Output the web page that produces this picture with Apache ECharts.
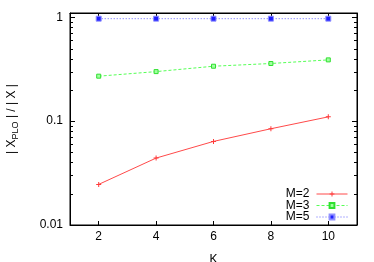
<!DOCTYPE html>
<html><head><meta charset="utf-8">
<script src="https://cdn.jsdelivr.net/npm/echarts@6/dist/echarts.min.js"></script>
<style>html,body{margin:0;padding:0;background:#fff}#c{width:374px;height:262px}</style>
</head><body><div id="c"></div>
<script>
const kValues = [2, 4, 6, 8, 10];
const m2 = [0.0246, 0.0441, 0.0638, 0.0845, 0.110];
const m3 = [0.271, 0.300, 0.338, 0.359, 0.389];
const m5 = [0.97, 0.97, 0.97, 0.97, 0.97];
const yTickLabels = ['0.01', '0.1', '1'];
const xTickLabels = ['2', '4', '6', '8', '10'];
const seriesNames = ['M=2', 'M=3', 'M=5'];

const FONT = 'Liberation Sans, Arial, sans-serif';
const chart = echarts.init(document.getElementById('c'), null, {renderer: 'canvas'});

function pairs(vals) { return kValues.map((k, i) => [k, vals[i]]); }
function yFmt(v) {
  const e = Math.log10(v);
  const r = Math.round(e);
  if (Math.abs(e - r) < 1e-6 && r >= -2 && r <= 0) return yTickLabels[r + 2];
  return '';
}
function xFmt(v) {
  const i = kValues.findIndex(k => Math.abs(k - v) < 1e-6);
  return i >= 0 ? xTickLabels[i] : '';
}

const plusPath = 'path://M4,0H6V4H10V6H6V10H4V6H0V4H4Z';
const gridBox = {left: 70, right: 17, top: 13, bottom: 37};

const baseX = {
  type: 'value', min: 1, max: 11, splitNumber: 5,
  axisLine: {show: true, lineStyle: {color: '#000', width: 1}},
  axisTick: {show: true, inside: true, length: 4, lineStyle: {color: '#000'}},
  splitLine: {show: false}
};
const baseY = {
  type: 'log', logBase: 10, min: 0.01, max: 1.1,
  axisLine: {show: true, lineStyle: {color: '#000', width: 1}},
  axisTick: {show: true, inside: true, length: 5, lineStyle: {color: '#000'}},
  splitLine: {show: false}
};

const option = {
  animation: false,
  backgroundColor: '#fff',
  textStyle: {fontFamily: FONT},
  grid: Object.assign({show: true, borderColor: '#000', borderWidth: 1, backgroundColor: 'transparent',
    containLabel: false, outerBoundsMode: 'none'}, gridBox),
  xAxis: [
    Object.assign({}, baseX, {
      position: 'bottom',
      name: 'K', nameLocation: 'middle', nameGap: 29,
      nameTextStyle: {fontSize: 12, color: '#000', fontFamily: FONT},
      axisLabel: {show: true, margin: 6, fontSize: 12, color: '#000', fontFamily: FONT, formatter: xFmt}
    }),
    Object.assign({}, baseX, {position: 'top', axisLabel: {show: false}})
  ],
  yAxis: [
    Object.assign({}, baseY, {
      position: 'left',
      name: '{a|| X}{s|PLO}{a| | / | X |}',
      nameLocation: 'middle', nameGap: 50, nameRotate: 90,
      nameTextStyle: {
        color: '#000', fontFamily: FONT, fontSize: 12,
        rich: {
          a: {fontSize: 12, color: '#000', fontFamily: FONT, lineHeight: 16},
          s: {fontSize: 9, color: '#000', fontFamily: FONT, lineHeight: 16, padding: [7, 0, 0, 0]}
        }
      },
      axisLabel: {show: true, margin: 7, fontSize: 12, color: '#000', fontFamily: FONT, formatter: yFmt}
    }),
    Object.assign({}, baseY, {position: 'right', axisLabel: {show: false}})
  ],
  legend: {
    orient: 'vertical', right: 26, top: 188,
    align: 'right', itemWidth: 31, itemHeight: 6, itemGap: -0.5,
    padding: 0,
    lineStyle: {width: 1},
    textStyle: {fontSize: 12, color: '#000', fontFamily: FONT, lineHeight: 11, padding: [0, 2, 0, 0]},
    data: seriesNames
  },
  series: [
    {
      name: seriesNames[0], type: 'line', data: pairs(m2),
      xAxisIndex: 0, yAxisIndex: 0,
      symbol: plusPath, symbolSize: 5,
      lineStyle: {color: '#ff4a4a', width: 1},
      itemStyle: {color: '#ff3a3a'}
    },
    {
      name: seriesNames[1], type: 'line', data: pairs(m3),
      xAxisIndex: 0, yAxisIndex: 0,
      symbol: 'rect', symbolSize: 4,
      lineStyle: {color: '#55ff55', width: 1, type: [3, 2]},
      itemStyle: {color: '#a0ffa0', borderColor: '#30e030', borderWidth: 1}
    },
    {
      name: seriesNames[2], type: 'line', data: pairs(m5),
      xAxisIndex: 0, yAxisIndex: 0,
      symbol: 'rect', symbolSize: 5,
      lineStyle: {color: '#6060ff', width: 1, type: [1, 2]},
      itemStyle: {color: '#2020ff', borderColor: '#9090ff', borderWidth: 1}
    }
  ]
};
chart.setOption(option);

// minor ticks on the log axes, placed through the axis scale
const minor = [];
const xl = chart.convertToPixel({xAxisIndex: 0}, 1);
const xr = chart.convertToPixel({xAxisIndex: 0}, 11);
[0.01, 0.1].forEach(d => {
  for (let m = 2; m <= 9; m++) {
    const y = Math.round(chart.convertToPixel({yAxisIndex: 0}, m * d)) + 0.5;
    minor.push({type: 'line', shape: {x1: xl, y1: y, x2: xl + 3, y2: y}, style: {stroke: '#000', lineWidth: 1}, silent: true});
    minor.push({type: 'line', shape: {x1: xr, y1: y, x2: xr - 3, y2: y}, style: {stroke: '#000', lineWidth: 1}, silent: true});
  }
});
chart.setOption({graphic: minor});
</script>
</body></html>
